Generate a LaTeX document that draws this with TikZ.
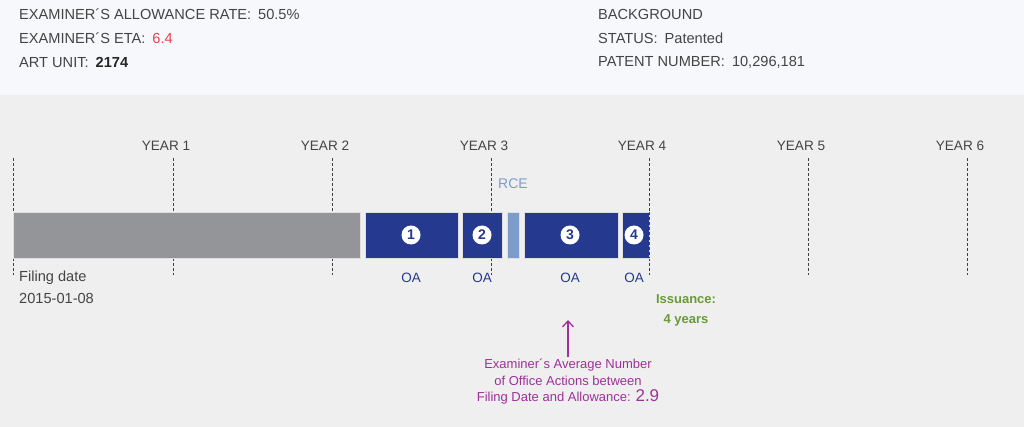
\documentclass[tikz,border=0pt]{standalone}
\usepackage{fontspec}
\setmainfont{Liberation Sans}
\usetikzlibrary{arrows.meta}
\definecolor{topbg}{HTML}{F6F8FB}
\definecolor{botbg}{HTML}{EFEFEF}
\definecolor{txt}{HTML}{444444}
\definecolor{oablue}{HTML}{253A8E}
\definecolor{barg}{HTML}{939598}
\definecolor{rce}{HTML}{7E9CCB}
\definecolor{etared}{HTML}{E8424E}
\definecolor{purp}{HTML}{A0309A}
\definecolor{issg}{HTML}{6A9A3A}
\begin{document}
\begin{tikzpicture}[x=1pt,y=-1pt,
  info/.style={anchor=west,inner sep=0pt,font=\fontsize{14.6}{16}\selectfont,text=txt},
  yearlbl/.style={inner sep=0pt,font=\fontsize{13.6}{15}\selectfont,text=txt},
  yline/.style={densely dashed,line width=0.9pt,black!75},
  bar/.style={draw=white!75!gray,line width=0.8pt},
  oabox/.style={bar,fill=oablue},
  num/.style={circle,fill=white,text=oablue,inner sep=0pt,minimum size=19pt,font=\bfseries\fontsize{14}{14}\selectfont},
  oalbl/.style={inner sep=0pt,font=\fontsize{13.5}{15}\selectfont,text=oablue}]
\useasboundingbox (0,0) rectangle (1024,427);
\fill[botbg] (0,0) rectangle (1024,427);
\fill[topbg] (0,0) rectangle (1024,95);
% top info
\node[info] (t1) at (19,14) {EXAMINER´S ALLOWANCE RATE:\hspace{7pt}50.5\%};
\node[info] (t2) at (19,38) {EXAMINER´S ETA:\hspace{7pt}\textcolor{etared}{6.4}};
\node[info] (t3) at (19,62) {ART UNIT:\hspace{7pt}\textcolor{black!85}{\bfseries 2174}};
\node[info] (t4) at (598,14) {BACKGROUND};
\node[info] (t5) at (598,38) {STATUS:\hspace{7pt}Patented};
\node[info] (t6) at (598,62) {PATENT NUMBER:\hspace{7pt}10,296,181};
% year lines
\foreach \i/\x in {0/13,1/173,2/332,3/491,4/649,5/808,6/967}{
  \coordinate (ya\i) at (\x,158);
  \coordinate (yb\i) at (\x,275);
  \draw[yline] (ya\i) -- (yb\i);
}
\foreach \i/\x in {1/173,2/332,3/491,4/649,5/808,6/967}{
  \node[yearlbl] (yl\i) at (\x-7,146) {YEAR \i};
}
% bars
\draw[bar,fill=barg] (13,212) rectangle (360,258);
\draw[oabox] (365,212) rectangle (458,258);
\draw[oabox] (462,212) rectangle (502,258);
\draw[bar,fill=rce] (507,212) rectangle (519,258);
\draw[oabox] (524,212) rectangle (618,258);
\draw[oabox] (622,212) rectangle (649,258);
\draw[yline] (649,212) -- (649,258);
\node[num] (n1) at (411,235) {1};
\node[num] (n2) at (482,235) {2};
\node[num] (n3) at (570,235) {3};
\node[num] (n4) at (634,235) {4};
\node[oalbl] (o1) at (411,278) {OA};
\node[oalbl] (o2) at (482,278) {OA};
\node[oalbl] (o3) at (570,278) {OA};
\node[oalbl] (o4) at (634,278) {OA};
\node[inner sep=0pt,font=\fontsize{14}{15}\selectfont,text=rce] (rcel) at (513,184) {RCE};
% filing
\node[info] (f1) at (19,278) {Filing date};
\node[info] (f2) at (19,298) {2015-01-08};
% issuance
\node[inner sep=0pt,align=center,font=\bfseries\fontsize{13}{20}\selectfont,text=issg] (iss) at (686,310) {Issuance:\\4 years};
% examiner note
\node[inner sep=0pt,align=center,font=\fontsize{13}{16.5}\selectfont,text=purp] (note) at (568,382) {Examiner´s Average Number\\of Office Actions between\\Filing Date and Allowance: {\fontsize{17}{16}\selectfont 2.9}};
\coordinate (arrtop) at (568,320);
\draw[purp,line width=1.3pt,-{Straight Barb[length=6pt,width=11pt]}] (568,357) -- (arrtop);
\end{tikzpicture}
\end{document}
